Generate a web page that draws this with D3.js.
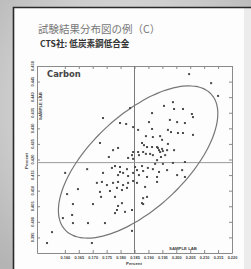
<!doctype html>
<html lang="ja">
<head>
<meta charset="utf-8">
<title>試験結果分布図の例（C）</title>
<script src="https://cdn.jsdelivr.net/npm/d3@7"></script>
<style>
  html, body { margin: 0; padding: 0; background: #d4d4d4; }
  svg { display: block; }
</style>
</head>
<body>
<div id="chart"></div>
<script>
// tick values on both axes
var xTicks = [0.160, 0.165, 0.170, 0.175, 0.180, 0.185, 0.190, 0.195, 0.200, 0.205, 0.210, 0.215, 0.220];
var yTicks = [0.395, 0.400, 0.405, 0.410, 0.415, 0.420, 0.425, 0.430, 0.435, 0.440, 0.445, 0.450];

// carbon results, percent (x = sample lab, y = sample lab)
var labX = [0.2046, 0.2125, 0.2150, 0.1737, 0.1834, 0.1956, 0.1988, 0.1992, 0.1913, 0.2024,
            0.2056, 0.2060, 0.1798, 0.1820, 0.1902, 0.1977, 0.2003, 0.1845, 0.2031, 0.1863,
            0.1913, 0.1970, 0.1981, 0.2006, 0.2024, 0.2060, 0.1891, 0.1916, 0.1942, 0.1949,
            0.1726, 0.1877, 0.1884, 0.1970, 0.1895, 0.1913, 0.1931, 0.1938, 0.1949, 0.1952,
            0.1942, 0.1967, 0.1992, 0.1791, 0.1773, 0.1845, 0.1863, 0.1881, 0.1841, 0.1866,
            0.1891, 0.1906, 0.1916, 0.1758, 0.1827, 0.1845, 0.1931, 0.1945, 0.1960, 0.2031,
            0.1988, 0.1952, 0.1924, 0.1601, 0.1680, 0.1769, 0.1780, 0.1798, 0.1823, 0.1852,
            0.1859, 0.1877, 0.1881, 0.1898, 0.1916, 0.1938, 0.1967, 0.2021, 0.1737, 0.1791,
            0.1845, 0.1866, 0.2003, 0.1798, 0.1809, 0.1827, 0.1895, 0.1931, 0.2031, 0.1715,
            0.1733, 0.1751, 0.1773, 0.1791, 0.1809, 0.1827, 0.1845, 0.1859, 0.1888, 0.1931,
            0.1647, 0.1726, 0.1762, 0.1787, 0.1805, 0.1823, 0.1608, 0.1730, 0.1780, 0.1881,
            0.1895, 0.1701, 0.1629, 0.1805, 0.1791, 0.1877, 0.1787, 0.1816, 0.1841, 0.1626,
            0.1780, 0.1593, 0.1629, 0.1683, 0.1744, 0.1554, 0.1841, 0.1536, 0.1697, 0.1881,
            0.1934];
var labY = [0.4474, 0.4445, 0.4404, 0.4333, 0.4365, 0.4372, 0.4384, 0.4362, 0.4349, 0.4362,
            0.4346, 0.4336, 0.4317, 0.4314, 0.4320, 0.4327, 0.4320, 0.4304, 0.4317, 0.4295,
            0.4298, 0.4295, 0.4288, 0.4285, 0.4285, 0.4279, 0.4275, 0.4272, 0.4275, 0.4263,
            0.4253, 0.4253, 0.4246, 0.4250, 0.4240, 0.4240, 0.4240, 0.4230, 0.4234, 0.4227,
            0.4224, 0.4230, 0.4230, 0.4237, 0.4230, 0.4224, 0.4224, 0.4224, 0.4214, 0.4214,
            0.4218, 0.4218, 0.4214, 0.4208, 0.4205, 0.4202, 0.4198, 0.4208, 0.4214, 0.4192,
            0.4189, 0.4186, 0.4186, 0.4157, 0.4169, 0.4173, 0.4179, 0.4176, 0.4169, 0.4176,
            0.4166, 0.4179, 0.4163, 0.4173, 0.4169, 0.4160, 0.4166, 0.4166, 0.4157, 0.4150,
            0.4157, 0.4150, 0.4150, 0.4160, 0.4157, 0.4147, 0.4144, 0.4144, 0.4144, 0.4125,
            0.4128, 0.4118, 0.4125, 0.4128, 0.4118, 0.4125, 0.4131, 0.4125, 0.4112, 0.4128,
            0.4105, 0.4096, 0.4099, 0.4109, 0.4102, 0.4109, 0.4089, 0.4080, 0.4080, 0.4076,
            0.4080, 0.4057, 0.4057, 0.4060, 0.4051, 0.4060, 0.4038, 0.4032, 0.4038, 0.4022,
            0.4028, 0.4012, 0.3996, 0.3996, 0.3996, 0.3967, 0.3971, 0.3932, 0.3932, 0.4057,
            0.4237];

// reference values (cross lines)
var refX = 0.185;
var refY = 0.419;

// confidence ellipse: centre and the two half-axis vectors, in percent
var ellCenter = [0.1863, 0.4192];
var ellMajor = [0.0262, 0.0218];
var ellMinor = [0.0115, -0.0110];

var W = 251, H = 269;
var svg = d3.select("#chart").append("svg").attr("width", W).attr("height", H);

// grey backdrop with soft light in the middle
var defs = svg.append("defs");
var grad = defs.append("radialGradient").attr("id", "bg").attr("cx", "50%").attr("cy", "40%").attr("r", "75%");
grad.append("stop").attr("offset", "0%").attr("stop-color", "#f0f0f0");
grad.append("stop").attr("offset", "100%").attr("stop-color", "#b4b4b4");
svg.append("rect").attr("width", W).attr("height", H).attr("fill", "url(#bg)");

// white card
svg.append("rect").attr("x", 13).attr("y", 7).attr("width", 231).attr("height", H)
    .attr("fill", "#fdfdfd");
svg.append("rect").attr("x", 244).attr("y", 7).attr("width", 7).attr("height", H)
    .attr("fill", "#ececec");
svg.append("path").attr("d", "M13.5," + H + "V7.5H" + W)
    .attr("fill", "none").attr("stroke", "#2a2a2a").attr("stroke-width", 1.6);

// titles
svg.append("text").attr("x", 38).attr("y", 33)
    .attr("font-family", "'Noto Sans CJK JP', sans-serif").attr("font-size", "10.5px")
    .attr("fill", "#777").text("試験結果分布図の例（C）");
svg.append("text").attr("x", 40).attr("y", 47)
    .attr("font-family", "'Noto Sans CJK JP', sans-serif").attr("font-size", "8.6px")
    .attr("font-weight", "bold").attr("fill", "#333").text("CTS社: 低炭素鋼低合金");

var plotL = 37, plotR = 232, plotT = 66, plotB = 253;

var x = d3.scaleLinear().domain([0.150, 0.220]).range([plotL, plotR]);
var y = d3.scaleLinear().domain([0.390, 0.450]).range([plotB, plotT]);

var g = svg.append("g");

var tickFont = "'Liberation Sans', Arial, sans-serif";

// frame with inward ticks
var axisStyle = function(sel) {
    sel.selectAll("path").attr("stroke", "#8a8a8a").attr("stroke-width", 1);
    sel.selectAll("line").attr("stroke", "#8a8a8a");
};
var fmt = d3.format(".3f");
g.append("g").attr("transform", "translate(0," + plotB + ")")
    .call(d3.axisBottom(x).tickValues(xTicks).tickSize(-3).tickSizeOuter(0).tickPadding(3.5)
        .tickFormat(fmt))
    .call(axisStyle)
    .call(function(s) {
        s.selectAll("text").attr("font-family", tickFont)
            .attr("font-size", "3.9px").attr("font-weight", "bold").attr("fill", "#444");
    });
g.append("g").attr("transform", "translate(0," + plotT + ")")
    .call(d3.axisTop(x).tickValues(xTicks).tickSize(-3).tickSizeOuter(0).tickFormat(""))
    .call(axisStyle);
g.append("g").attr("transform", "translate(" + plotL + ",0)")
    .call(d3.axisLeft(y).tickValues(yTicks).tickSize(-3).tickSizeOuter(0).tickFormat(""))
    .call(axisStyle);
g.append("g").attr("transform", "translate(" + plotR + ",0)")
    .call(d3.axisRight(y).tickValues(yTicks).tickSize(-3).tickSizeOuter(0).tickFormat(""))
    .call(axisStyle);

// rotated y tick labels
g.selectAll(".ylab").data(yTicks).enter().append("text")
    .attr("class", "ylab")
    .attr("transform", function(d) { return "translate(34," + y(d) + ") rotate(-90)"; })
    .attr("text-anchor", "middle")
    .attr("font-family", tickFont).attr("font-size", "3.9px")
    .attr("font-weight", "bold").attr("fill", "#444")
    .text(fmt);

// axis titles
g.append("text").attr("x", 134).attr("y", 265).attr("text-anchor", "middle")
    .attr("font-family", tickFont).attr("font-size", "4.3px")
    .attr("font-weight", "bold").attr("fill", "#444").text("Percent");
g.append("text").attr("x", 183).attr("y", 250).attr("text-anchor", "middle")
    .attr("font-family", tickFont).attr("font-size", "4.3px")
    .attr("font-weight", "bold").attr("fill", "#444").text("SAMPLE LAB");
g.append("text").attr("transform", "translate(28,161) rotate(-90)").attr("text-anchor", "middle")
    .attr("font-family", tickFont).attr("font-size", "4.3px")
    .attr("font-weight", "bold").attr("fill", "#444").text("Percent");
g.append("text").attr("transform", "translate(42,106) rotate(-90)").attr("text-anchor", "middle")
    .attr("font-family", tickFont).attr("font-size", "4.3px")
    .attr("font-weight", "bold").attr("fill", "#444").text("SAMPLE LAB");

g.append("text").attr("x", 47).attr("y", 77)
    .attr("font-family", "'DejaVu Sans', sans-serif").attr("font-size", "8.4px")
    .attr("font-weight", "bold").attr("fill", "#444").text("Carbon");

// reference cross
g.append("line").attr("x1", x(refX)).attr("x2", x(refX)).attr("y1", plotT).attr("y2", plotB)
    .attr("stroke", "#7a7a7a").attr("stroke-width", 1);
g.append("line").attr("x1", plotL).attr("x2", plotR).attr("y1", y(refY)).attr("y2", y(refY))
    .attr("stroke", "#9a9a9a").attr("stroke-width", 1);

// ellipse
var ellPts = d3.range(0, 361, 4).map(function(a) {
    var t = a * Math.PI / 180;
    return [ellCenter[0] + Math.cos(t) * ellMajor[0] + Math.sin(t) * ellMinor[0],
            ellCenter[1] + Math.cos(t) * ellMajor[1] + Math.sin(t) * ellMinor[1]];
});
g.append("path").datum(ellPts)
    .attr("d", d3.line().x(function(d) { return x(d[0]); }).y(function(d) { return y(d[1]); })
        .curve(d3.curveCardinalClosed))
    .attr("fill", "none").attr("stroke", "#777").attr("stroke-width", 1.2);

// points
var pts = labX.map(function(v, i) { return [v, labY[i]]; });
g.selectAll(".pt").data(pts).enter().append("rect")
    .attr("class", "pt")
    .attr("x", function(d) { return x(d[0]) - 1; })
    .attr("y", function(d) { return y(d[1]) - 1; })
    .attr("width", 2).attr("height", 2)
    .attr("fill", "#4a4a4a");
</script>
</body>
</html>
